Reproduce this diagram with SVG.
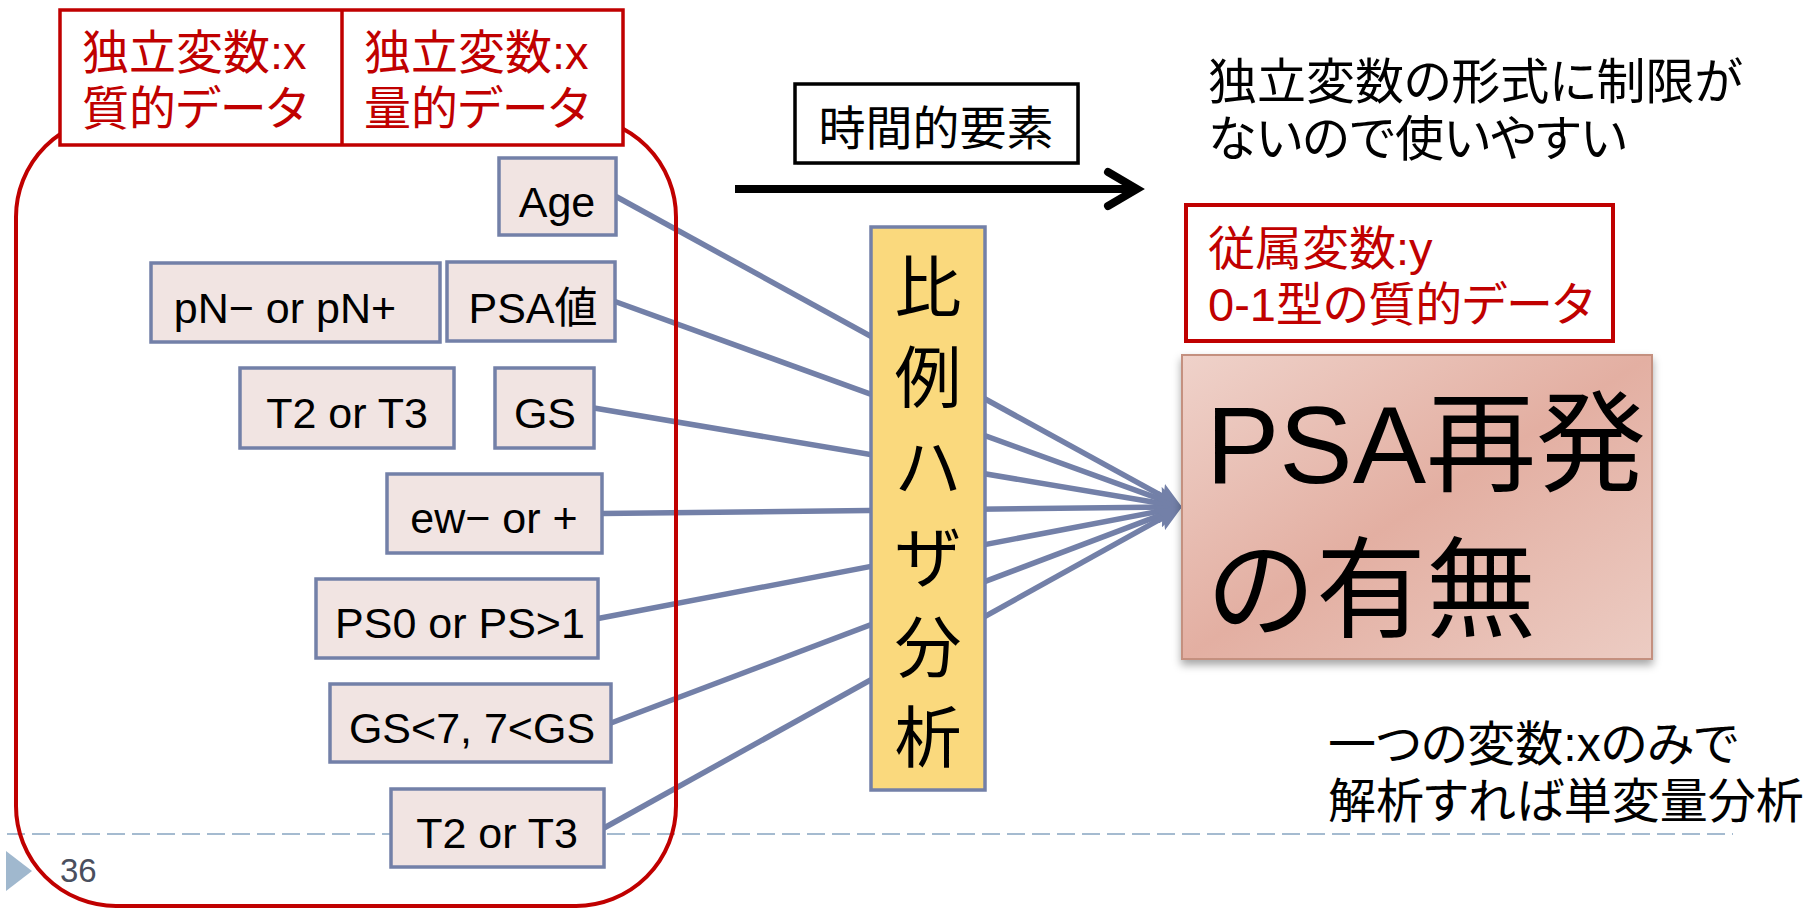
<svg xmlns="http://www.w3.org/2000/svg" width="1806" height="908" viewBox="0 0 1806 908">
<style>
  .t { font-family: "Liberation Sans", "Noto Sans CJK JP", sans-serif; }
  .jp { font-family: "Liberation Sans", "Noto Sans CJK JP", sans-serif; font-feature-settings: "palt"; }
  .red { fill: #C00000; }
  .blk { fill: #000000; }
  .var rect { fill: #F1E4E2; stroke: #7380A8; stroke-width: 3.5; }
  .var text { font-family: "Liberation Sans", "Noto Sans CJK JP", sans-serif; font-size: 43px; fill: #000; text-anchor: middle; }
  .conn line { stroke: #7380A8; stroke-width: 5.5; marker-end: url(#ah); }
</style>
<defs>
  <marker id="ah" markerUnits="userSpaceOnUse" markerWidth="26" markerHeight="24" viewBox="0 0 26 24" refX="13" refY="12" orient="auto">
    <path d="M0,0 L26,12 L0,24 L5,12 z" fill="#7380A8"/>
  </marker>
  <linearGradient id="pg" x1="0" y1="0" x2="1" y2="1">
    <stop offset="0" stop-color="#EFD2CA"/>
    <stop offset="0.5" stop-color="#E3AFA2"/>
    <stop offset="1" stop-color="#ECCCC3"/>
  </linearGradient>
  <filter id="sh" x="-10%" y="-10%" width="120%" height="125%">
    <feDropShadow dx="0" dy="5" stdDeviation="4" flood-color="#000" flood-opacity="0.35"/>
  </filter>
</defs>

<!-- slide master elements -->
<g id="footer">
  <line x1="7" y1="834" x2="1733" y2="834" stroke="#A5BBD0" stroke-width="2" stroke-dasharray="18 7"/>
  <polygon points="6,851 32,871 6,891" fill="#A0B8CE"/>
  <text x="60" y="882" class="t" font-size="33" fill="#4A4F5E">36</text>
</g>

<!-- connectors -->
<g id="connectors" class="conn">
  <line x1="616" y1="196.5" x2="1170.6" y2="500.7"/>
  <line x1="615" y1="301.5" x2="1169.8" y2="502.6"/>
  <line x1="594" y1="408" x2="1169.2" y2="504.8"/>
  <line x1="602" y1="513.5" x2="1169" y2="507.1"/>
  <line x1="598" y1="618.5" x2="1169.2" y2="509.4"/>
  <line x1="611" y1="723" x2="1169.8" y2="511.6"/>
  <line x1="604" y1="828" x2="1170.6" y2="513.3"/>
</g>

<!-- group frame -->
<g id="group-frame">
  <rect x="16" y="117" width="660" height="789" rx="100" ry="100" fill="none" stroke="#C00000" stroke-width="4"/>
</g>

<g id="header">
  <rect x="60" y="10" width="563" height="135" fill="#fff" stroke="#C00000" stroke-width="3.5"/>
  <line x1="342" y1="10" x2="342" y2="145" stroke="#C00000" stroke-width="3.5"/>
  <text class="jp red" font-size="47"><tspan x="82" y="69">独立変数:x</tspan><tspan x="82" y="125">質的データ</tspan></text>
  <text class="jp red" font-size="47"><tspan x="364" y="69">独立変数:x</tspan><tspan x="364" y="125">量的データ</tspan></text>
</g>

<g id="n-age" class="var"><rect x="499" y="158" width="117" height="77"/><text x="557" y="217">Age</text></g>
<g id="n-pn" class="var"><rect x="151" y="263" width="289" height="79"/><text x="285" y="323">pN− or pN+</text></g>
<g id="n-psa" class="var"><rect x="447" y="262" width="168" height="79"/><text x="533" y="323">PSA値</text></g>
<g id="n-t2a" class="var"><rect x="240" y="368" width="214" height="80"/><text x="347" y="428">T2 or T3</text></g>
<g id="n-gs" class="var"><rect x="495" y="368" width="99" height="80"/><text x="545" y="428">GS</text></g>
<g id="n-ew" class="var"><rect x="387" y="474" width="215" height="79"/><text x="494" y="533">ew− or +</text></g>
<g id="n-ps" class="var"><rect x="316" y="579" width="282" height="79"/><text x="460" y="638">PS0 or PS&gt;1</text></g>
<g id="n-gs7" class="var"><rect x="330" y="684" width="281" height="78"/><text x="472" y="743">GS&lt;7, 7&lt;GS</text></g>
<g id="n-t2b" class="var"><rect x="391" y="789" width="213" height="78"/><text x="497" y="848">T2 or T3</text></g>

<g id="n-cox">
  <rect x="871" y="227" width="114" height="563" fill="#FAD97D" stroke="#7380A8" stroke-width="3.5"/>
  <text class="t blk" font-size="67" text-anchor="middle">
    <tspan x="928" y="312">比</tspan><tspan x="928" y="402">例</tspan><tspan x="928" y="492">ハ</tspan><tspan x="928" y="582">ザ</tspan><tspan x="928" y="672">分</tspan><tspan x="928" y="762">析</tspan>
  </text>
</g>

<g id="n-time">
  <rect x="797" y="86" width="283" height="79" fill="#9a9a9a" opacity="0.5"/>
  <rect x="795" y="84" width="283" height="79" fill="#fff" stroke="#000" stroke-width="3.5"/>
  <text x="936" y="145" class="t blk" font-size="47" text-anchor="middle">時間的要素</text>
</g>

<g id="time-arrow">
  <line x1="735" y1="189" x2="1134" y2="189" stroke="#000" stroke-width="8"/>
  <polyline points="1108,172 1137,189 1108,206" fill="none" stroke="#000" stroke-width="8" stroke-linecap="round" stroke-linejoin="miter"/>
</g>

<g id="note-top">
  <text class="jp blk" font-size="49"><tspan x="1208" y="99">独立変数の形式に制限が</tspan><tspan x="1208" y="156">ないので使いやすい</tspan></text>
</g>

<g id="n-dep">
  <rect x="1186" y="205" width="427" height="136" fill="#fff" stroke="#C00000" stroke-width="4"/>
  <text class="jp red" font-size="47"><tspan x="1208" y="265">従属変数:y</tspan><tspan x="1208" y="321">0-1型の質的データ</tspan></text>
</g>

<g id="n-outcome">
  <rect x="1182" y="355" width="470" height="304" fill="url(#pg)" stroke="#C4907F" stroke-width="2" filter="url(#sh)"/>
  <text class="t blk" font-size="110"><tspan x="1206" y="483">PSA再発</tspan><tspan x="1206" y="629">の有無</tspan></text>
</g>

<g id="note-bottom">
  <text class="jp blk" font-size="48"><tspan x="1328" y="761">一つの変数:xのみで</tspan><tspan x="1328" y="818">解析すれば単変量分析</tspan></text>
</g>
</svg>
